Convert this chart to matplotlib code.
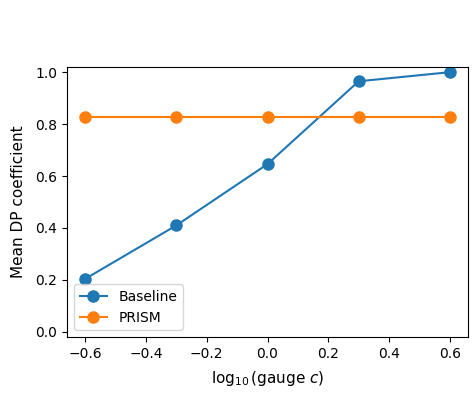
import matplotlib
matplotlib.use("Agg")
import matplotlib.pyplot as plt

log_c = [-0.6, -0.3, 0.0, 0.3, 0.6]
baseline = [0.204, 0.41, 0.646, 0.965, 1.0]
prism = [0.827, 0.827, 0.827, 0.827, 0.827]

fig = plt.figure(figsize=(4.76, 3.95), dpi=100)
ax = fig.add_axes([67/476, 1-337/395, (468-67)/476, (337-67)/395])
ax.plot(log_c, baseline, marker="o", color="#1f77b4", markersize=8, label="Baseline")
ax.plot(log_c, prism, marker="o", color="#ff7f0e", markersize=8, label="PRISM")
ax.set_ylim(-0.02, 1.02)
ax.set_xlabel(r"$\log_{10}$(gauge $c$)", fontsize=11, labelpad=6)
ax.set_ylabel("Mean DP coefficient", fontsize=11, labelpad=7)
ax.legend(loc="lower left")
fig.savefig("out.png", dpi=100)
